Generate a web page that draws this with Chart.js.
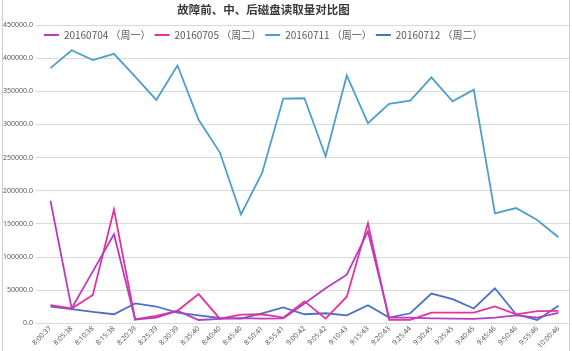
<!DOCTYPE html>
<html>
<head>
<meta charset="utf-8">
<script src="https://cdn.jsdelivr.net/npm/chart.js@4"></script>
<style>
  body { margin: 0; background: #fff; }
  #wrap { position: relative; width: 572px; height: 351px; }
  #frame { position: absolute; left: 2px; top: 0; width: 566px; height: 351px;
    border-left: 1px solid #cfcfcf; border-right: 1px solid #cfcfcf; pointer-events: none; }
  #title { position: absolute; top: 1px; left: 0; width: 527px; text-align: center;
    font: bold 11.5px "Noto Sans CJK SC"; color: #3a3a3a; }
</style>
</head>
<body>
<div id="wrap">
  <canvas id="myChart" width="572" height="351"></canvas>
  <div id="title">故障前、中、后磁盘读取量对比图</div>
  <div id="frame"></div>
</div>
<script>
const times = ['8:00:37', '8:05:38', '8:10:38', '8:15:38', '8:20:39', '8:25:39', '8:30:39', '8:35:40',
  '8:40:40', '8:45:40', '8:50:41', '8:55:41', '9:00:42', '9:05:42', '9:10:43', '9:15:43', '9:20:43',
  '9:25:44', '9:30:45', '9:35:45', '9:40:45', '9:45:46', '9:50:46', '9:55:46', '10:00:46'];

const day0704 = [185000, 22500, 78500, 134500, 6000, 8700, 19000, 5200, 7000, 8000, 7200, 7700,
  30000, 53000, 73400, 138700, 8700, 8700, 7700, 7200, 7000, 8700, 12200, 8700, 16000];
const day0705 = [27500, 22500, 42800, 171800, 6100, 11300, 19000, 44300, 7200, 13300, 13800, 8700,
  33200, 7200, 40300, 151300, 5200, 5200, 16400, 16400, 16400, 25500, 13800, 18400, 18900];
const day0711 = [385000, 412000, 397000, 406500, 372000, 337000, 389000, 307000, 258000, 164500, 227000, 339000,
  339500, 252000, 374000, 302000, 331000, 336000, 371000, 335000, 352500, 166000, 174000, 156000, 130000];
const day0712 = [25500, 21400, 17500, 13800, 30300, 25500, 16400, 12200, 8200, 7200, 15300, 24000,
  13800, 15300, 12200, 27500, 8700, 15300, 45000, 36700, 22500, 53000, 13800, 5200, 26600];

const seriesNames = ['20160704 （周一）', '20160705 （周二）', '20160711 （周一）', '20160712 （周二）'];

function line(label, data, color) {
  return {
    label: label,
    data: data,
    borderColor: color,
    backgroundColor: color,
    borderWidth: 1.8,
    pointRadius: 0,
    tension: 0,
  };
}

// legend sits inside the plot, just under the top gridline
const legendInside = {
  id: 'legendInside',
  afterLayout(chart) {
    const lg = chart.legend;
    const h = lg.bottom - lg.top;
    lg.top = chart.chartArea.top + 1;
    lg.bottom = lg.top + h;
  },
};

const ctx = document.getElementById("myChart");

new Chart(ctx, {
  type: "line",
  plugins: [legendInside],
  data: {
    labels: times,
    datasets: [
      line(seriesNames[0], day0704, '#B83CC0'),
      line(seriesNames[1], day0705, '#E6339A'),
      line(seriesNames[2], day0711, '#4F9FCC'),
      line(seriesNames[3], day0712, '#4A70C8'),
    ],
  },
  options: {
    responsive: false,
    animation: false,
    layout: {
      padding: { top: 1, left: 0, right: 3, bottom: 0 },
    },
    plugins: {
      title: { display: false },
      tooltip: { enabled: false },
      legend: {
        position: 'top',
        align: 'start',
        fullSize: false,
        labels: {
          boxWidth: 15,
          boxHeight: 0,
          padding: 4,
          color: '#595959',
          font: { family: 'Noto Sans CJK SC', size: 10 },
        },
      },
    },
    scales: {
      x: {
        offset: true,
        grid: { display: false, drawTicks: false },
        border: { color: '#d9d9d9' },
        ticks: {
          autoSkip: false,
          maxRotation: 45,
          minRotation: 45,
          padding: 1,
          color: '#595959',
          font: { family: 'Noto Sans', size: 7 },
        },
      },
      y: {
        min: 0,
        max: 450000,
        grid: { color: '#d9d9d9', tickLength: 4 },
        border: { display: false },
        ticks: {
          stepSize: 50000,
          padding: 3,
          color: '#595959',
          font: { family: 'Noto Sans', size: 7 },
          callback: (v) => v.toFixed(1),
        },
      },
    },
  },
});
</script>
</body>
</html>
